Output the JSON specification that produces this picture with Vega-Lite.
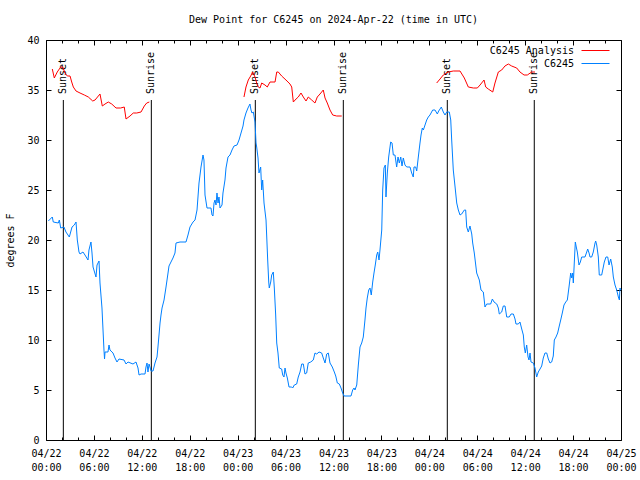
{
  "$schema": "https://vega.github.io/schema/vega-lite/v6.json",
  "width": 575,
  "height": 400,
  "autosize": {"type": "none"},
  "padding": {"left": 46, "top": 40, "right": 19, "bottom": 40},
  "background": "white",
  "title": {"text": "Dew Point for C6245 on 2024-Apr-22 (time in UTC)", "anchor": "middle", "fontSize": 10, "fontWeight": "normal", "font": "DejaVu Sans Mono", "color": "black", "offset": 10},
  "config": {
    "font": "DejaVu Sans Mono",
    "view": {"stroke": "black", "strokeWidth": 1},
    "axis": {"domainColor": "black", "tickColor": "black", "labelColor": "black", "titleColor": "black", "labelFontSize": 10, "titleFontSize": 10, "titleFontWeight": "normal", "grid": false, "domain": false, "ticks": true, "tickOpacity": 1, "tickWidth": 1, "zindex": 1},
    "legend": {"labelFontSize": 10, "labelColor": "black"}
  },
  "datasets": {
    "blue": [
      {"hour": 0.29, "dewpoint": 21.9}, {"hour": 0.79, "dewpoint": 22.3}, {"hour": 0.91, "dewpoint": 21.8}, {"hour": 1.54, "dewpoint": 21.7}, {"hour": 1.67, "dewpoint": 22.0}, {"hour": 1.84, "dewpoint": 21.2}, {"hour": 2.25, "dewpoint": 21.3}, {"hour": 2.5, "dewpoint": 20.8}, {"hour": 2.92, "dewpoint": 20.3}, {"hour": 3.09, "dewpoint": 20.8}, {"hour": 3.26, "dewpoint": 21.3}, {"hour": 3.54, "dewpoint": 21.5}, {"hour": 3.76, "dewpoint": 21.8}, {"hour": 3.92, "dewpoint": 20.0}, {"hour": 4.01, "dewpoint": 19.5}, {"hour": 4.13, "dewpoint": 18.8}, {"hour": 4.26, "dewpoint": 18.6}, {"hour": 4.63, "dewpoint": 18.8}, {"hour": 4.88, "dewpoint": 18.5}, {"hour": 5.26, "dewpoint": 18.0}, {"hour": 5.38, "dewpoint": 19.0}, {"hour": 5.63, "dewpoint": 19.8}, {"hour": 5.76, "dewpoint": 18.7}, {"hour": 5.89, "dewpoint": 17.3}, {"hour": 6.26, "dewpoint": 16.3}, {"hour": 6.39, "dewpoint": 17.5}, {"hour": 6.64, "dewpoint": 17.9}, {"hour": 6.76, "dewpoint": 15.7}, {"hour": 7.01, "dewpoint": 13.2}, {"hour": 7.14, "dewpoint": 11.0}, {"hour": 7.26, "dewpoint": 9.0}, {"hour": 7.33, "dewpoint": 8.1}, {"hour": 7.39, "dewpoint": 8.8}, {"hour": 7.76, "dewpoint": 8.8}, {"hour": 7.89, "dewpoint": 9.5}, {"hour": 8.01, "dewpoint": 9.0}, {"hour": 8.39, "dewpoint": 8.7}, {"hour": 8.64, "dewpoint": 8.2}, {"hour": 8.89, "dewpoint": 7.8}, {"hour": 9.14, "dewpoint": 8.1}, {"hour": 9.77, "dewpoint": 8.0}, {"hour": 10.02, "dewpoint": 7.6}, {"hour": 10.27, "dewpoint": 7.8}, {"hour": 10.89, "dewpoint": 7.6}, {"hour": 11.27, "dewpoint": 7.8}, {"hour": 11.52, "dewpoint": 7.2}, {"hour": 11.65, "dewpoint": 6.5}, {"hour": 11.9, "dewpoint": 6.6}, {"hour": 12.4, "dewpoint": 6.6}, {"hour": 12.52, "dewpoint": 7.3}, {"hour": 12.65, "dewpoint": 7.7}, {"hour": 12.77, "dewpoint": 6.8}, {"hour": 12.9, "dewpoint": 7.6}, {"hour": 13.02, "dewpoint": 7.3}, {"hour": 13.15, "dewpoint": 6.9}, {"hour": 13.4, "dewpoint": 6.9}, {"hour": 13.65, "dewpoint": 7.7}, {"hour": 13.9, "dewpoint": 8.3}, {"hour": 14.02, "dewpoint": 9.3}, {"hour": 14.15, "dewpoint": 10.5}, {"hour": 14.28, "dewpoint": 11.7}, {"hour": 14.4, "dewpoint": 12.5}, {"hour": 14.53, "dewpoint": 13.2}, {"hour": 14.78, "dewpoint": 14.0}, {"hour": 15.03, "dewpoint": 15.3}, {"hour": 15.28, "dewpoint": 16.7}, {"hour": 15.4, "dewpoint": 17.4}, {"hour": 15.65, "dewpoint": 17.8}, {"hour": 15.9, "dewpoint": 18.2}, {"hour": 16.15, "dewpoint": 18.7}, {"hour": 16.28, "dewpoint": 19.7}, {"hour": 16.78, "dewpoint": 19.8}, {"hour": 17.53, "dewpoint": 19.8}, {"hour": 17.78, "dewpoint": 20.5}, {"hour": 18.03, "dewpoint": 21.3}, {"hour": 18.41, "dewpoint": 21.8}, {"hour": 18.66, "dewpoint": 22.0}, {"hour": 18.91, "dewpoint": 23.0}, {"hour": 19.16, "dewpoint": 25.7}, {"hour": 19.41, "dewpoint": 27.3}, {"hour": 19.66, "dewpoint": 28.5}, {"hour": 19.78, "dewpoint": 28.0}, {"hour": 19.91, "dewpoint": 24.5}, {"hour": 20.16, "dewpoint": 23.2}, {"hour": 20.66, "dewpoint": 23.2}, {"hour": 20.79, "dewpoint": 22.5}, {"hour": 20.91, "dewpoint": 22.4}, {"hour": 21.04, "dewpoint": 23.7}, {"hour": 21.16, "dewpoint": 24.0}, {"hour": 21.29, "dewpoint": 23.5}, {"hour": 21.41, "dewpoint": 24.7}, {"hour": 21.54, "dewpoint": 23.7}, {"hour": 21.66, "dewpoint": 24.3}, {"hour": 21.79, "dewpoint": 23.2}, {"hour": 22.04, "dewpoint": 23.5}, {"hour": 22.16, "dewpoint": 24.7}, {"hour": 22.41, "dewpoint": 26.0}, {"hour": 22.54, "dewpoint": 27.2}, {"hour": 22.79, "dewpoint": 28.3}, {"hour": 23.04, "dewpoint": 28.5}, {"hour": 23.29, "dewpoint": 29.0}, {"hour": 23.54, "dewpoint": 29.4}, {"hour": 23.92, "dewpoint": 29.5}, {"hour": 24.17, "dewpoint": 30.0}, {"hour": 24.42, "dewpoint": 30.7}, {"hour": 24.67, "dewpoint": 31.4}, {"hour": 24.79, "dewpoint": 32.0}, {"hour": 25.04, "dewpoint": 32.7}, {"hour": 25.29, "dewpoint": 33.2}, {"hour": 25.54, "dewpoint": 33.6}, {"hour": 25.67, "dewpoint": 33.0}, {"hour": 25.79, "dewpoint": 32.7}, {"hour": 25.96, "dewpoint": 32.8}, {"hour": 26.17, "dewpoint": 31.8}, {"hour": 26.3, "dewpoint": 29.7}, {"hour": 26.38, "dewpoint": 29.3}, {"hour": 26.55, "dewpoint": 28.2}, {"hour": 26.67, "dewpoint": 26.7}, {"hour": 26.88, "dewpoint": 27.3}, {"hour": 27.01, "dewpoint": 25.0}, {"hour": 27.13, "dewpoint": 26.0}, {"hour": 27.3, "dewpoint": 23.7}, {"hour": 27.55, "dewpoint": 22.0}, {"hour": 27.64, "dewpoint": 20.3}, {"hour": 27.76, "dewpoint": 18.0}, {"hour": 27.89, "dewpoint": 15.8}, {"hour": 27.96, "dewpoint": 15.2}, {"hour": 28.14, "dewpoint": 15.8}, {"hour": 28.26, "dewpoint": 16.5}, {"hour": 28.46, "dewpoint": 16.8}, {"hour": 28.59, "dewpoint": 15.2}, {"hour": 28.76, "dewpoint": 12.5}, {"hour": 28.89, "dewpoint": 9.7}, {"hour": 29.05, "dewpoint": 8.7}, {"hour": 29.21, "dewpoint": 7.2}, {"hour": 29.51, "dewpoint": 7.1}, {"hour": 29.64, "dewpoint": 6.5}, {"hour": 29.8, "dewpoint": 6.3}, {"hour": 29.93, "dewpoint": 7.2}, {"hour": 30.05, "dewpoint": 6.7}, {"hour": 30.22, "dewpoint": 6.2}, {"hour": 30.43, "dewpoint": 5.3}, {"hour": 30.77, "dewpoint": 5.3}, {"hour": 30.89, "dewpoint": 5.2}, {"hour": 31.09, "dewpoint": 5.5}, {"hour": 31.39, "dewpoint": 5.6}, {"hour": 31.59, "dewpoint": 6.3}, {"hour": 31.81, "dewpoint": 6.8}, {"hour": 32.02, "dewpoint": 7.6}, {"hour": 32.22, "dewpoint": 7.6}, {"hour": 32.43, "dewpoint": 6.6}, {"hour": 32.64, "dewpoint": 6.7}, {"hour": 32.84, "dewpoint": 7.7}, {"hour": 33.15, "dewpoint": 7.8}, {"hour": 33.47, "dewpoint": 8.0}, {"hour": 33.68, "dewpoint": 8.7}, {"hour": 33.9, "dewpoint": 8.6}, {"hour": 34.19, "dewpoint": 8.8}, {"hour": 34.52, "dewpoint": 8.7}, {"hour": 34.72, "dewpoint": 8.2}, {"hour": 34.94, "dewpoint": 7.7}, {"hour": 35.15, "dewpoint": 8.6}, {"hour": 35.35, "dewpoint": 8.7}, {"hour": 35.56, "dewpoint": 7.7}, {"hour": 35.85, "dewpoint": 7.3}, {"hour": 36.1, "dewpoint": 6.8}, {"hour": 36.28, "dewpoint": 6.4}, {"hour": 36.48, "dewpoint": 5.7}, {"hour": 36.73, "dewpoint": 5.6}, {"hour": 36.94, "dewpoint": 5.2}, {"hour": 37.15, "dewpoint": 4.7}, {"hour": 37.32, "dewpoint": 4.4}, {"hour": 38.19, "dewpoint": 4.4}, {"hour": 38.4, "dewpoint": 5.0}, {"hour": 38.57, "dewpoint": 5.2}, {"hour": 38.69, "dewpoint": 5.0}, {"hour": 38.91, "dewpoint": 5.5}, {"hour": 39.11, "dewpoint": 7.5}, {"hour": 39.32, "dewpoint": 9.3}, {"hour": 39.53, "dewpoint": 9.7}, {"hour": 39.73, "dewpoint": 10.3}, {"hour": 39.94, "dewpoint": 12.0}, {"hour": 40.07, "dewpoint": 13.2}, {"hour": 40.23, "dewpoint": 14.2}, {"hour": 40.41, "dewpoint": 15.0}, {"hour": 40.57, "dewpoint": 15.2}, {"hour": 40.73, "dewpoint": 14.5}, {"hour": 40.91, "dewpoint": 15.8}, {"hour": 41.07, "dewpoint": 16.7}, {"hour": 41.23, "dewpoint": 17.5}, {"hour": 41.41, "dewpoint": 18.5}, {"hour": 41.54, "dewpoint": 18.8}, {"hour": 41.7, "dewpoint": 18.0}, {"hour": 41.82, "dewpoint": 19.0}, {"hour": 42.04, "dewpoint": 21.0}, {"hour": 42.16, "dewpoint": 25.0}, {"hour": 42.32, "dewpoint": 27.2}, {"hour": 42.49, "dewpoint": 27.5}, {"hour": 42.57, "dewpoint": 24.3}, {"hour": 42.74, "dewpoint": 26.7}, {"hour": 42.91, "dewpoint": 28.3}, {"hour": 43.16, "dewpoint": 29.8}, {"hour": 43.33, "dewpoint": 29.7}, {"hour": 43.49, "dewpoint": 28.5}, {"hour": 43.7, "dewpoint": 28.5}, {"hour": 43.91, "dewpoint": 27.3}, {"hour": 44.08, "dewpoint": 28.3}, {"hour": 44.24, "dewpoint": 27.7}, {"hour": 44.42, "dewpoint": 28.3}, {"hour": 44.58, "dewpoint": 27.4}, {"hour": 44.74, "dewpoint": 28.2}, {"hour": 44.95, "dewpoint": 27.5}, {"hour": 45.17, "dewpoint": 27.3}, {"hour": 45.58, "dewpoint": 27.3}, {"hour": 45.79, "dewpoint": 26.7}, {"hour": 45.99, "dewpoint": 26.3}, {"hour": 46.08, "dewpoint": 27.3}, {"hour": 46.29, "dewpoint": 27.3}, {"hour": 46.42, "dewpoint": 26.9}, {"hour": 46.62, "dewpoint": 28.3}, {"hour": 46.83, "dewpoint": 29.7}, {"hour": 46.96, "dewpoint": 30.5}, {"hour": 47.12, "dewpoint": 31.2}, {"hour": 47.25, "dewpoint": 31.0}, {"hour": 47.46, "dewpoint": 31.5}, {"hour": 47.67, "dewpoint": 32.0}, {"hour": 47.87, "dewpoint": 32.3}, {"hour": 48.08, "dewpoint": 32.5}, {"hour": 48.42, "dewpoint": 33.0}, {"hour": 48.71, "dewpoint": 33.0}, {"hour": 49.0, "dewpoint": 32.6}, {"hour": 49.17, "dewpoint": 32.9}, {"hour": 49.34, "dewpoint": 33.1}, {"hour": 49.5, "dewpoint": 33.3}, {"hour": 49.75, "dewpoint": 32.8}, {"hour": 49.96, "dewpoint": 32.5}, {"hour": 50.18, "dewpoint": 32.8}, {"hour": 50.5, "dewpoint": 32.8}, {"hour": 50.68, "dewpoint": 32.0}, {"hour": 50.8, "dewpoint": 30.0}, {"hour": 51.0, "dewpoint": 27.0}, {"hour": 51.21, "dewpoint": 25.4}, {"hour": 51.43, "dewpoint": 23.7}, {"hour": 51.63, "dewpoint": 23.0}, {"hour": 51.84, "dewpoint": 22.5}, {"hour": 52.05, "dewpoint": 22.6}, {"hour": 52.38, "dewpoint": 23.0}, {"hour": 52.55, "dewpoint": 23.0}, {"hour": 52.68, "dewpoint": 21.3}, {"hour": 52.88, "dewpoint": 20.8}, {"hour": 53.09, "dewpoint": 21.4}, {"hour": 53.31, "dewpoint": 20.6}, {"hour": 53.43, "dewpoint": 19.7}, {"hour": 53.63, "dewpoint": 18.7}, {"hour": 53.93, "dewpoint": 16.7}, {"hour": 54.26, "dewpoint": 16.0}, {"hour": 54.47, "dewpoint": 15.0}, {"hour": 54.76, "dewpoint": 14.8}, {"hour": 54.97, "dewpoint": 13.3}, {"hour": 55.18, "dewpoint": 13.6}, {"hour": 55.68, "dewpoint": 13.6}, {"hour": 55.89, "dewpoint": 14.1}, {"hour": 56.1, "dewpoint": 13.8}, {"hour": 56.44, "dewpoint": 13.6}, {"hour": 56.64, "dewpoint": 13.2}, {"hour": 56.76, "dewpoint": 12.6}, {"hour": 57.06, "dewpoint": 12.8}, {"hour": 57.26, "dewpoint": 13.4}, {"hour": 57.48, "dewpoint": 13.4}, {"hour": 57.69, "dewpoint": 12.3}, {"hour": 58.01, "dewpoint": 12.3}, {"hour": 58.23, "dewpoint": 12.6}, {"hour": 58.52, "dewpoint": 12.6}, {"hour": 58.73, "dewpoint": 12.1}, {"hour": 58.85, "dewpoint": 11.6}, {"hour": 59.14, "dewpoint": 11.6}, {"hour": 59.35, "dewpoint": 11.8}, {"hour": 59.57, "dewpoint": 11.1}, {"hour": 59.77, "dewpoint": 10.5}, {"hour": 59.89, "dewpoint": 9.3}, {"hour": 60.02, "dewpoint": 8.7}, {"hour": 60.19, "dewpoint": 9.5}, {"hour": 60.36, "dewpoint": 8.3}, {"hour": 60.48, "dewpoint": 8.0}, {"hour": 60.61, "dewpoint": 8.7}, {"hour": 60.73, "dewpoint": 7.8}, {"hour": 61.02, "dewpoint": 7.7}, {"hour": 61.23, "dewpoint": 7.2}, {"hour": 61.44, "dewpoint": 6.3}, {"hour": 61.64, "dewpoint": 6.8}, {"hour": 61.86, "dewpoint": 7.1}, {"hour": 62.07, "dewpoint": 7.4}, {"hour": 62.27, "dewpoint": 8.2}, {"hour": 62.48, "dewpoint": 8.7}, {"hour": 62.7, "dewpoint": 8.7}, {"hour": 62.9, "dewpoint": 8.1}, {"hour": 63.11, "dewpoint": 7.7}, {"hour": 63.32, "dewpoint": 7.8}, {"hour": 63.52, "dewpoint": 8.4}, {"hour": 63.65, "dewpoint": 10.0}, {"hour": 63.86, "dewpoint": 10.3}, {"hour": 64.07, "dewpoint": 10.7}, {"hour": 64.27, "dewpoint": 11.4}, {"hour": 64.45, "dewpoint": 12.0}, {"hour": 64.65, "dewpoint": 12.7}, {"hour": 64.86, "dewpoint": 13.5}, {"hour": 65.08, "dewpoint": 13.8}, {"hour": 65.28, "dewpoint": 14.0}, {"hour": 65.49, "dewpoint": 15.3}, {"hour": 65.7, "dewpoint": 16.7}, {"hour": 65.83, "dewpoint": 16.2}, {"hour": 65.95, "dewpoint": 16.7}, {"hour": 66.03, "dewpoint": 15.7}, {"hour": 66.15, "dewpoint": 17.7}, {"hour": 66.28, "dewpoint": 19.8}, {"hour": 66.4, "dewpoint": 19.3}, {"hour": 66.53, "dewpoint": 18.8}, {"hour": 66.74, "dewpoint": 17.5}, {"hour": 66.91, "dewpoint": 17.8}, {"hour": 67.08, "dewpoint": 18.3}, {"hour": 67.49, "dewpoint": 18.3}, {"hour": 67.71, "dewpoint": 18.8}, {"hour": 67.83, "dewpoint": 19.1}, {"hour": 68.0, "dewpoint": 18.7}, {"hour": 68.12, "dewpoint": 18.3}, {"hour": 68.33, "dewpoint": 18.3}, {"hour": 68.53, "dewpoint": 18.8}, {"hour": 68.75, "dewpoint": 19.7}, {"hour": 68.83, "dewpoint": 19.9}, {"hour": 68.96, "dewpoint": 19.5}, {"hour": 69.16, "dewpoint": 18.3}, {"hour": 69.28, "dewpoint": 16.5}, {"hour": 69.58, "dewpoint": 16.5}, {"hour": 69.71, "dewpoint": 17.0}, {"hour": 69.91, "dewpoint": 17.8}, {"hour": 70.12, "dewpoint": 18.3}, {"hour": 70.34, "dewpoint": 18.3}, {"hour": 70.5, "dewpoint": 17.5}, {"hour": 70.71, "dewpoint": 18.1}, {"hour": 70.91, "dewpoint": 17.3}, {"hour": 71.04, "dewpoint": 16.3}, {"hour": 71.25, "dewpoint": 15.5}, {"hour": 71.46, "dewpoint": 15.0}, {"hour": 71.67, "dewpoint": 14.3}, {"hour": 71.8, "dewpoint": 14.0}, {"hour": 71.87, "dewpoint": 15.2}, {"hour": 72.0, "dewpoint": 15.0}
    ],
    "red": [
      {"seg": 1, "hour": 0.79, "dewpoint": 37.1}, {"seg": 1, "hour": 1.04, "dewpoint": 36.2}, {"seg": 1, "hour": 1.41, "dewpoint": 36.8}, {"seg": 1, "hour": 1.84, "dewpoint": 37.3}, {"seg": 1, "hour": 2.09, "dewpoint": 37.3}, {"seg": 1, "hour": 2.38, "dewpoint": 36.7}, {"seg": 1, "hour": 2.67, "dewpoint": 36.4}, {"seg": 1, "hour": 3.01, "dewpoint": 36.4}, {"seg": 1, "hour": 3.22, "dewpoint": 35.8}, {"seg": 1, "hour": 3.42, "dewpoint": 35.3}, {"seg": 1, "hour": 3.76, "dewpoint": 34.9}, {"seg": 1, "hour": 4.26, "dewpoint": 34.7}, {"seg": 1, "hour": 4.8, "dewpoint": 34.5}, {"seg": 1, "hour": 5.3, "dewpoint": 34.3}, {"seg": 1, "hour": 5.85, "dewpoint": 33.9}, {"seg": 1, "hour": 6.14, "dewpoint": 34.0}, {"seg": 1, "hour": 6.76, "dewpoint": 34.6}, {"seg": 1, "hour": 7.05, "dewpoint": 33.4}, {"seg": 1, "hour": 7.39, "dewpoint": 33.6}, {"seg": 1, "hour": 7.8, "dewpoint": 33.8}, {"seg": 1, "hour": 8.23, "dewpoint": 33.6}, {"seg": 1, "hour": 8.77, "dewpoint": 33.2}, {"seg": 1, "hour": 9.35, "dewpoint": 33.2}, {"seg": 1, "hour": 9.8, "dewpoint": 33.3}, {"seg": 1, "hour": 10.02, "dewpoint": 32.1}, {"seg": 1, "hour": 10.52, "dewpoint": 32.4}, {"seg": 1, "hour": 10.93, "dewpoint": 32.7}, {"seg": 1, "hour": 11.36, "dewpoint": 32.7}, {"seg": 1, "hour": 11.9, "dewpoint": 32.8}, {"seg": 1, "hour": 12.31, "dewpoint": 33.4}, {"seg": 1, "hour": 12.61, "dewpoint": 33.7}, {"seg": 1, "hour": 12.94, "dewpoint": 33.8},
      {"seg": 2, "hour": 24.79, "dewpoint": 34.3}, {"seg": 2, "hour": 25.04, "dewpoint": 35.3}, {"seg": 2, "hour": 25.33, "dewpoint": 36.0}, {"seg": 2, "hour": 25.63, "dewpoint": 36.4}, {"seg": 2, "hour": 25.88, "dewpoint": 36.8}, {"seg": 2, "hour": 26.17, "dewpoint": 36.3}, {"seg": 2, "hour": 26.38, "dewpoint": 35.7}, {"seg": 2, "hour": 26.58, "dewpoint": 35.3}, {"seg": 2, "hour": 26.8, "dewpoint": 35.2}, {"seg": 2, "hour": 27.01, "dewpoint": 35.7}, {"seg": 2, "hour": 27.42, "dewpoint": 35.5}, {"seg": 2, "hour": 27.71, "dewpoint": 35.3}, {"seg": 2, "hour": 28.05, "dewpoint": 35.8}, {"seg": 2, "hour": 28.68, "dewpoint": 35.8}, {"seg": 2, "hour": 28.89, "dewpoint": 36.8}, {"seg": 2, "hour": 29.09, "dewpoint": 36.8}, {"seg": 2, "hour": 29.51, "dewpoint": 36.4}, {"seg": 2, "hour": 30.05, "dewpoint": 36.0}, {"seg": 2, "hour": 30.55, "dewpoint": 35.6}, {"seg": 2, "hour": 30.77, "dewpoint": 35.3}, {"seg": 2, "hour": 30.97, "dewpoint": 33.8}, {"seg": 2, "hour": 31.31, "dewpoint": 34.1}, {"seg": 2, "hour": 31.59, "dewpoint": 34.3}, {"seg": 2, "hour": 31.93, "dewpoint": 34.7}, {"seg": 2, "hour": 32.22, "dewpoint": 34.3}, {"seg": 2, "hour": 32.56, "dewpoint": 33.9}, {"seg": 2, "hour": 32.84, "dewpoint": 34.3}, {"seg": 2, "hour": 33.27, "dewpoint": 34.0}, {"seg": 2, "hour": 33.68, "dewpoint": 33.7}, {"seg": 2, "hour": 33.97, "dewpoint": 34.3}, {"seg": 2, "hour": 34.31, "dewpoint": 34.6}, {"seg": 2, "hour": 34.72, "dewpoint": 35.0}, {"seg": 2, "hour": 34.94, "dewpoint": 34.2}, {"seg": 2, "hour": 35.22, "dewpoint": 33.7}, {"seg": 2, "hour": 35.56, "dewpoint": 33.0}, {"seg": 2, "hour": 35.9, "dewpoint": 32.5}, {"seg": 2, "hour": 36.4, "dewpoint": 32.4}, {"seg": 2, "hour": 37.03, "dewpoint": 32.4},
      {"seg": 3, "hour": 48.92, "dewpoint": 35.7}, {"seg": 3, "hour": 49.34, "dewpoint": 36.1}, {"seg": 3, "hour": 49.75, "dewpoint": 36.5}, {"seg": 3, "hour": 50.38, "dewpoint": 36.8}, {"seg": 3, "hour": 51.0, "dewpoint": 36.9}, {"seg": 3, "hour": 51.84, "dewpoint": 36.9}, {"seg": 3, "hour": 52.38, "dewpoint": 36.2}, {"seg": 3, "hour": 52.88, "dewpoint": 35.3}, {"seg": 3, "hour": 53.51, "dewpoint": 35.2}, {"seg": 3, "hour": 54.01, "dewpoint": 35.2}, {"seg": 3, "hour": 54.35, "dewpoint": 35.5}, {"seg": 3, "hour": 54.85, "dewpoint": 36.0}, {"seg": 3, "hour": 55.06, "dewpoint": 35.3}, {"seg": 3, "hour": 55.38, "dewpoint": 35.1}, {"seg": 3, "hour": 55.94, "dewpoint": 34.8}, {"seg": 3, "hour": 56.22, "dewpoint": 35.7}, {"seg": 3, "hour": 56.64, "dewpoint": 36.8}, {"seg": 3, "hour": 57.06, "dewpoint": 37.0}, {"seg": 3, "hour": 57.47, "dewpoint": 37.4}, {"seg": 3, "hour": 57.89, "dewpoint": 37.6}, {"seg": 3, "hour": 58.31, "dewpoint": 37.4}, {"seg": 3, "hour": 58.94, "dewpoint": 37.2}, {"seg": 3, "hour": 59.35, "dewpoint": 36.8}, {"seg": 3, "hour": 59.86, "dewpoint": 36.5}, {"seg": 3, "hour": 60.27, "dewpoint": 36.5}, {"seg": 3, "hour": 60.82, "dewpoint": 36.8}, {"seg": 3, "hour": 61.23, "dewpoint": 36.8}
    ],
    "sun": [
      {"hour": 2.17, "event": "Sunset"}, {"hour": 13.19, "event": "Sunrise"},
      {"hour": 26.21, "event": "Sunset"}, {"hour": 37.23, "event": "Sunrise"},
      {"hour": 50.25, "event": "Sunset"}, {"hour": 61.14, "event": "Sunrise"}
    ]
  },
  "resolve": {"axis": {"x": "independent", "y": "independent"}},
  "layer": [
    {
      "data": {"name": "sun"},
      "mark": {"type": "rule", "color": "black", "strokeWidth": 1},
      "encoding": {
        "x": {"field": "hour", "type": "quantitative", "scale": {"domain": [0, 72], "nice": false, "zero": false},
              "axis": {"orient": "bottom", "values": [2, 4, 8, 10, 14, 16, 20, 22, 26, 28, 32, 34, 38, 40, 44, 46, 50, 52, 56, 58, 62, 64, 68, 70], "labels": false, "ticks": true, "tickSize": 3, "offset": -3, "title": null, "domain": false}},
        "y": {"datum": 0, "type": "quantitative", "scale": {"domain": [0, 40], "nice": false}, "axis": null},
        "y2": {"datum": 34}
      }
    },
    {
      "data": {"name": "sun"},
      "mark": {"type": "text", "angle": 270, "align": "left", "baseline": "middle", "fontSize": 10, "font": "DejaVu Sans Mono", "color": "black", "dx": 6},
      "encoding": {
        "x": {"field": "hour", "type": "quantitative",
              "axis": {"orient": "top", "values": [2, 4, 8, 10, 14, 16, 20, 22, 26, 28, 32, 34, 38, 40, 44, 46, 50, 52, 56, 58, 62, 64, 68, 70], "labels": false, "ticks": true, "tickSize": 3, "offset": -3, "title": null, "domain": false}},
        "y": {"datum": 34, "type": "quantitative", "axis": null},
        "text": {"field": "event"}
      }
    },
    {
      "data": {"name": "red"},
      "mark": {"type": "line", "strokeWidth": 1, "interpolate": "linear"},
      "encoding": {
        "x": {"field": "hour", "type": "quantitative",
              "axis": {"orient": "top", "values": [0, 6, 12, 18, 24, 30, 36, 42, 48, 54, 60, 66, 72], "labels": false, "ticks": true, "tickSize": 5, "offset": -5, "title": null, "domain": false}},
        "y": {"field": "dewpoint", "type": "quantitative",
              "axis": {"orient": "right", "values": [0, 5, 10, 15, 20, 25, 30, 35, 40], "labels": false, "ticks": true, "tickSize": 5, "offset": -5, "title": null, "domain": false}},
        "detail": {"field": "seg"},
        "color": {"datum": "C6245 Analysis", "type": "nominal",
                  "scale": {"domain": ["C6245 Analysis", "C6245"], "range": ["#ff0000", "#0080ff"]},
                  "legend": {"title": null, "orient": "none", "legendX": 542, "legendY": 3, "symbolType": "M-2,0H2", "symbolSize": 196, "symbolStrokeWidth": 1, "labelAlign": "right", "labelOffset": -29, "rowPadding": 0, "padding": 0, "labelFontSize": 10, "labelFont": "DejaVu Sans Mono",
                             "encode": {"symbols": {"update": {"stroke": {"scale": "color", "field": "value"}, "fill": {"value": "transparent"}}}}}}
      }
    },
    {
      "data": {"name": "blue"},
      "mark": {"type": "line", "strokeWidth": 1, "interpolate": "linear"},
      "encoding": {
        "x": {"field": "hour", "type": "quantitative",
              "axis": {"orient": "bottom", "values": [0, 6, 12, 18, 24, 30, 36, 42, 48, 54, 60, 66, 72], "ticks": true, "tickSize": 5, "offset": -5, "labelPadding": 8, "labelLineHeight": 14, "labelBaseline": "top", "labelAlign": "center", "labelFlush": false, "title": null, "domain": false,
                       "labelExpr": "['04/' + (22 + floor(datum.value / 24)), ((datum.value % 24) < 10 ? '0' : '') + (datum.value % 24) + ':00']"}},
        "y": {"field": "dewpoint", "type": "quantitative",
              "axis": {"orient": "left", "values": [0, 5, 10, 15, 20, 25, 30, 35, 40], "ticks": true, "tickSize": 5, "offset": -5, "labelPadding": 7, "title": "degrees F", "titlePadding": 11, "domain": false}},
        "color": {"datum": "C6245", "type": "nominal"}
      }
    }
  ]
}
